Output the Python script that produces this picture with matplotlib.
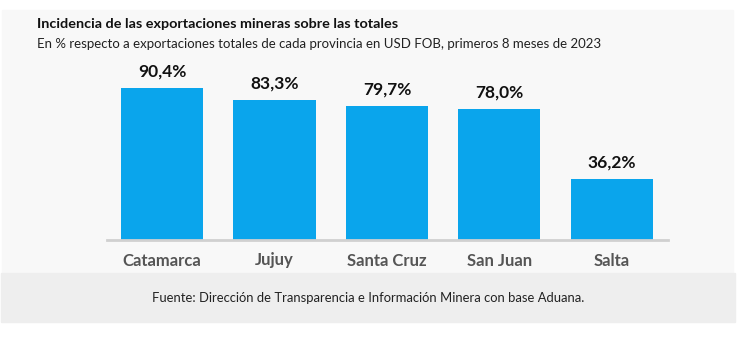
import matplotlib.pyplot as plt
from matplotlib.patches import Rectangle

provincias = ["Catamarca", "Jujuy", "Santa Cruz", "San Juan", "Salta"]
incidencia = [90.4, 83.3, 79.7, 78.0, 36.2]
etiquetas = ["90,4%", "83,3%", "79,7%", "78,0%", "36,2%"]

W, H = 747, 340
plt.rcParams['font.family'] = ['Lato', 'DejaVu Sans']

fig = plt.figure(figsize=(W / 100, H / 100), dpi=100)
fig.patch.set_facecolor('white')

# fondo de la tarjeta y pie
fig.patches.append(Rectangle((2 / W, 1 - 273 / H), 731 / W, 263 / H,
                             transform=fig.transFigure, color='#f8f8f8', zorder=-2))
fig.patches.append(Rectangle((1 / W, 1 - 322 / H), 734 / W, 49 / H,
                             transform=fig.transFigure, color='#eeeeee', zorder=-1))

fig.text(37 / W, 1 - 24 / H, "Incidencia de las exportaciones mineras sobre las totales",
         fontsize=10.4, fontweight='bold', va='center', ha='left', color='#111111')
fig.text(37 / W, 1 - 44 / H,
         "En % respecto a exportaciones totales de cada provincia en USD FOB, primeros 8 meses de 2023",
         fontsize=9.5, va='center', ha='left', color='#222222')
fig.text(368 / W, 1 - 298 / H,
         "Fuente: Dirección de Transparencia e Información Minera con base Aduana.",
         fontsize=9.4, va='center', ha='center', color='#222222')

ax = fig.add_axes([107 / W, 1 - 240 / H, 561 / W, 168 / H])
ax.set_facecolor('none')
x = range(len(provincias))
bars = ax.bar(x, incidencia, width=0.73, color='#0aa5ec', zorder=2)
ax.set_xlim(-0.49, 4.5)
ax.set_ylim(0, 100)

for b, lab in zip(bars, etiquetas):
    ax.annotate(lab, (b.get_x() + b.get_width() / 2, b.get_height()),
                xytext=(0, 6), textcoords='offset points', ha='center', va='bottom',
                fontsize=12.5, fontweight='bold', color='#111111')

ax.set_xticks(list(x))
ax.set_xticklabels(provincias, fontsize=12, fontweight='bold', color='#555555')
ax.tick_params(axis='x', length=0, pad=9)
ax.set_yticks([])
for s in ['top', 'right', 'left']:
    ax.spines[s].set_visible(False)
ax.spines['bottom'].set_color('#d0d0d0')
ax.spines['bottom'].set_linewidth(2)

fig.savefig('out.png', dpi=100)
